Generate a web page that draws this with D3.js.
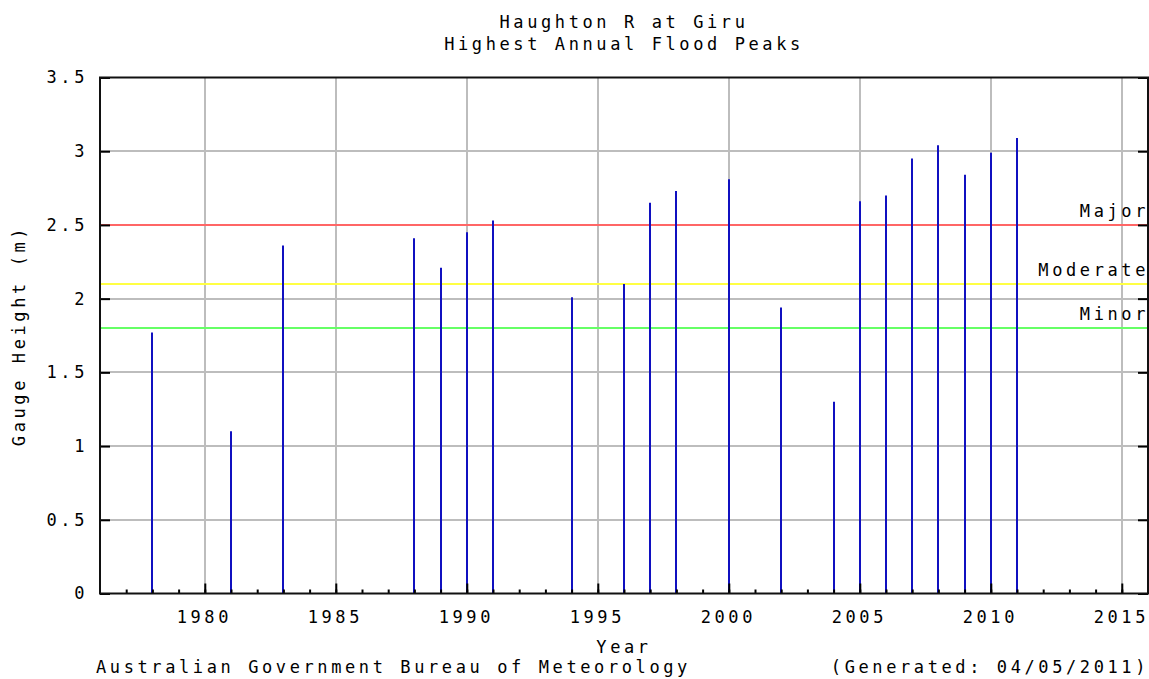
<!DOCTYPE html>
<html>
<head>
<meta charset="utf-8">
<script src="https://cdn.jsdelivr.net/npm/d3@7"></script>
<style>
  body { margin: 0; background: #fff; }
  text { font-family: "DejaVu Sans Mono", monospace; font-size: 17px; letter-spacing: 3.6px; fill: #000; }
</style>
</head>
<body>
<div id="chart"></div>
<script>
// data
const years = [1978, 1981, 1983, 1988, 1989, 1990, 1991, 1994, 1996, 1997, 1998,
               2000, 2002, 2004, 2005, 2006, 2007, 2008, 2009, 2010, 2011];
const peaks = [1.77, 1.10, 2.36, 2.41, 2.21, 2.45, 2.53, 2.01, 2.10, 2.65, 2.73,
               2.81, 1.94, 1.30, 2.66, 2.70, 2.95, 3.04, 2.84, 2.99, 3.09];

const levelNames = ["Major", "Moderate", "Minor"];
const levelValues = [2.5, 2.1, 1.8];
const levelColors = ["#ff6666", "#ffff44", "#66ff66"];

const xTicks = [1980, 1985, 1990, 1995, 2000, 2005, 2010, 2015];
const yTicks = [0, 0.5, 1, 1.5, 2, 2.5, 3, 3.5];

const W = 1149, H = 679;
const margin = { top: 77.5, right: 1, bottom: 85.5, left: 100 };

const svg = d3.select("#chart").append("svg")
    .attr("width", W)
    .attr("height", H);

const x = d3.scaleLinear()
    .domain([1976, 2016])
    .range([margin.left, W - margin.right]);

const y = d3.scaleLinear()
    .domain([0, 3.5])
    .range([H - margin.bottom, margin.top]);

// grid
const grid = svg.append("g").attr("stroke", "#bdbdbd").attr("stroke-width", 2);
grid.selectAll(".gx")
  .data(xTicks)
  .join("line")
    .attr("x1", d => Math.round(x(d))).attr("x2", d => Math.round(x(d)))
    .attr("y1", y(0)).attr("y2", y(3.5));
grid.selectAll(".gy")
  .data(yTicks.slice(1, -1))
  .join("line")
    .attr("x1", x(1976)).attr("x2", x(2016))
    .attr("y1", d => Math.round(y(d))).attr("y2", d => Math.round(y(d)));

// flood levels
svg.append("g")
  .selectAll("line")
  .data(levelValues)
  .join("line")
    .attr("x1", x(1976)).attr("x2", x(2016))
    .attr("y1", d => Math.round(y(d))).attr("y2", d => Math.round(y(d)))
    .attr("stroke", (d, i) => levelColors[i])
    .attr("stroke-width", 2);

svg.append("g")
  .selectAll("text")
  .data(levelValues)
  .join("text")
    .attr("x", x(2016) + 1)
    .attr("y", d => y(d) - 8)
    .attr("text-anchor", "end")
    .text((d, i) => levelNames[i]);

// peaks
svg.append("g")
  .selectAll("line")
  .data(years)
  .join("line")
    .attr("x1", d => Math.round(x(d))).attr("x2", d => Math.round(x(d)))
    .attr("y1", y(0))
    .attr("y2", (d, i) => y(peaks[i]))
    .attr("stroke", "#1010c0")
    .attr("stroke-width", 2);

// axes
const xAxis = d3.axisBottom(x)
    .tickValues(d3.range(1977, 2016))
    .tickSize(-4)
    .tickFormat("");
svg.append("g")
    .attr("transform", `translate(0,${y(0)})`)
    .call(xAxis)
    .call(g => g.select(".domain").remove())
    .call(g => g.selectAll(".tick line").attr("stroke", "#000").attr("stroke-width", 2));

svg.append("g")
    .attr("transform", `translate(0,${y(0)})`)
    .call(d3.axisBottom(x).tickValues(xTicks).tickSize(-10).tickPadding(17).tickFormat(d3.format("d")))
    .call(g => g.select(".domain").remove())
    .call(g => g.selectAll(".tick line").attr("stroke", "#000").attr("stroke-width", 2))
    .call(g => g.selectAll(".tick text").attr("font-size", null).attr("font-family", null).attr("dx", -1));

svg.append("g")
    .attr("transform", `translate(${x(1976)},0)`)
    .call(d3.axisLeft(y).tickValues(yTicks).tickSize(-10).tickPadding(15).tickFormat(d3.format("")))
    .call(g => g.select(".domain").remove())
    .call(g => g.selectAll(".tick line").attr("stroke", "#000").attr("stroke-width", 2))
    .call(g => g.selectAll(".tick text").attr("font-size", null).attr("font-family", null).attr("dx", 3));

svg.append("g")
    .attr("transform", `translate(${x(2016)},0)`)
    .call(d3.axisRight(y).tickValues(yTicks).tickSize(-10).tickFormat(""))
    .call(g => g.select(".domain").remove())
    .call(g => g.selectAll(".tick line").attr("stroke", "#000").attr("stroke-width", 2));

// frame
svg.append("rect")
    .attr("x", x(1976)).attr("y", y(3.5))
    .attr("width", x(2016) - x(1976))
    .attr("height", y(0) - y(3.5))
    .attr("fill", "none")
    .attr("stroke", "#111")
    .attr("stroke-width", 2);

// titles
svg.append("text").attr("x", 624).attr("y", 28).attr("text-anchor", "middle").text("Haughton R at Giru");
svg.append("text").attr("x", 624).attr("y", 50).attr("text-anchor", "middle").text("Highest Annual Flood Peaks");
svg.append("text").attr("x", 624).attr("y", 653).attr("text-anchor", "middle").text("Year");
svg.append("text")
    .attr("transform", `translate(25,${(y(0) + y(3.5)) / 2}) rotate(-90)`)
    .attr("text-anchor", "middle")
    .text("Gauge Height (m)");
svg.append("text").attr("x", 96).attr("y", 673).text("Australian Government Bureau of Meteorology");
svg.append("text").attr("x", 1149).attr("y", 673).attr("text-anchor", "end").text("(Generated: 04/05/2011)");
</script>
</body>
</html>
